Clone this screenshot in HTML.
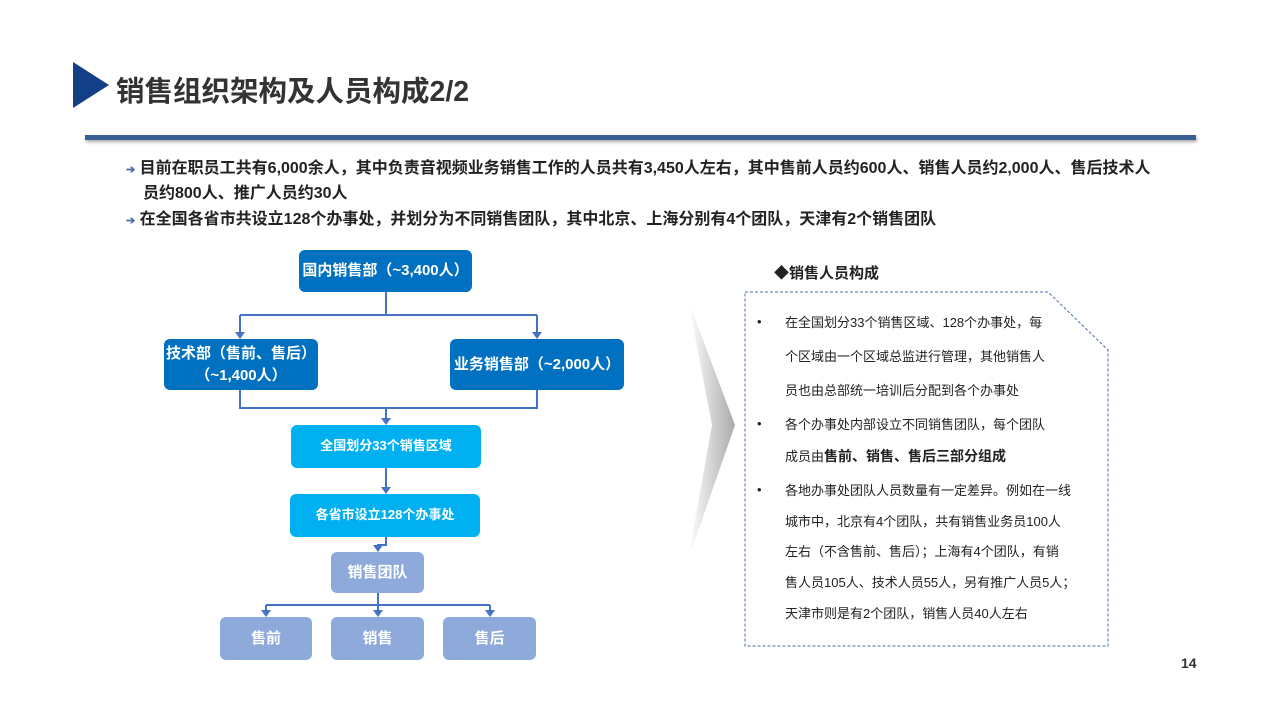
<!DOCTYPE html>
<html><head><meta charset="utf-8"><style>
*{margin:0;padding:0;box-sizing:border-box}
body{width:1280px;height:720px;background:#fff;position:relative;overflow:hidden;font-family:"Liberation Sans","Noto Sans CJK SC",sans-serif;color:#222}
.a{position:absolute}
.box{position:absolute;display:flex;align-items:center;justify-content:center;text-align:center;color:#fff;font-weight:bold;border-radius:6px;line-height:1.45}
.d{background:#0070c0;font-size:15px}
.l{background:#00b0f0;font-size:13px}
.p{background:#8eaadb;font-size:15px}
.t{position:absolute;left:785px;font-size:13px;color:#222;white-space:nowrap}
.b{position:absolute;left:757px;font-size:13px}
</style></head><body>
<div class="a" style="left:73px;top:62px;width:0;height:0;border-top:23px solid transparent;border-bottom:23px solid transparent;border-left:36px solid #123f85"></div>
<div class="a" style="left:116px;top:69px;font-size:28.5px;font-weight:bold;color:#333">销售组织架构及人员构成2/2</div>
<div class="a" style="left:85px;top:135px;width:1111px;height:5px;background:#3a5f95;box-shadow:1px 2px 3px rgba(0,0,0,.35)"></div>
<div class="a" style="left:126px;top:157px;font-size:16px;font-weight:bold;line-height:24px;width:1060px">
<div><span style="color:#4a6da8;font-size:11px">➔</span> 目前在职员工共有6,000余人，其中负责音视频业务销售工作的人员共有3,450人左右，其中售前人员约600人、销售人员约2,000人、售后技术人</div>
<div style="padding-left:17px">员约800人、推广人员约30人</div>
<div style="margin-top:2px"><span style="color:#4a6da8;font-size:11px">➔</span> 在全国各省市共设立128个办事处，并划分为不同销售团队，其中北京、上海分别有4个团队，天津有2个销售团队</div>
</div>
<svg class="a" style="left:0;top:0" width="1280" height="720">
<defs><linearGradient id="g" x1="0" x2="1"><stop offset="0" stop-color="#fff"/><stop offset="1" stop-color="#9a9a9a"/></linearGradient></defs>
<g stroke="#4472c4" stroke-width="2" fill="none">
<path d="M386 292V315M240 315H537M240 315V333M537 315V333"/>
<path d="M240 390V408H537V390M386 408V419"/>
<path d="M386 468V487"/>
<path d="M386 537V545H378V546"/>
<path d="M378 593V605M266 605H490M266 605V611M378 605V611M490 605V611"/>
</g>
<g fill="#4472c4">
<path d="M235 332H245L240 339Z"/><path d="M532 332H542L537 339Z"/>
<path d="M381 418H391L386 425Z"/><path d="M381 487H391L386 494Z"/>
<path d="M373 545H383L378 552Z"/>
<path d="M261 610H271L266 617Z"/><path d="M373 610H383L378 617Z"/><path d="M485 610H495L490 617Z"/>
</g>
<path d="M688 300L735 425L688 560L712 425Z" fill="url(#g)" opacity=".85"/>
<path d="M745 292H1048L1108 350V646H745Z" fill="none" stroke="#4a6da8" stroke-width="1" stroke-dasharray="3,2"/>
</svg>
<div class="box d" style="left:299px;top:250px;width:173px;height:42px">国内销售部（~3,400人）</div>
<div class="box d" style="left:164px;top:339px;width:154px;height:51px">技术部（售前、售后）<br>（~1,400人）</div>
<div class="box d" style="left:450px;top:339px;width:174px;height:51px">业务销售部（~2,000人）</div>
<div class="box l" style="left:291px;top:425px;width:190px;height:43px">全国划分33个销售区域</div>
<div class="box l" style="left:290px;top:494px;width:190px;height:43px">各省市设立128个办事处</div>
<div class="box p" style="left:331px;top:552px;width:93px;height:41px">销售团队</div>
<div class="box p" style="left:220px;top:617px;width:92px;height:43px">售前</div>
<div class="box p" style="left:331px;top:617px;width:93px;height:43px">销售</div>
<div class="box p" style="left:443px;top:617px;width:93px;height:43px">售后</div>
<div class="a" style="left:774px;top:262px;font-size:15px;font-weight:bold">◆销售人员构成</div>
<div class="b" style="top:314px">•</div>
<div class="t" style="top:312px">在全国划分33个销售区域、128个办事处，每</div>
<div class="t" style="top:346px">个区域由一个区域总监进行管理，其他销售人</div>
<div class="t" style="top:380px">员也由总部统一培训后分配到各个办事处</div>
<div class="b" style="top:416px">•</div>
<div class="t" style="top:414px">各个办事处内部设立不同销售团队，每个团队</div>
<div class="t" style="top:446px">成员由<b style="font-size:14px">售前、销售、售后三部分组成</b></div>
<div class="b" style="top:482px">•</div>
<div class="t" style="top:480px">各地办事处团队人员数量有一定差异。例如在一线</div>
<div class="t" style="top:511px">城市中，北京有4个团队，共有销售业务员100人</div>
<div class="t" style="top:541px">左右（不含售前、售后）；上海有4个团队，有销</div>
<div class="t" style="top:572px">售人员105人、技术人员55人，另有推广人员5人；</div>
<div class="t" style="top:603px">天津市则是有2个团队，销售人员40人左右</div>
<div class="a" style="left:1181px;top:655px;font-size:14px;font-weight:bold;color:#333">14</div>
</body></html>
